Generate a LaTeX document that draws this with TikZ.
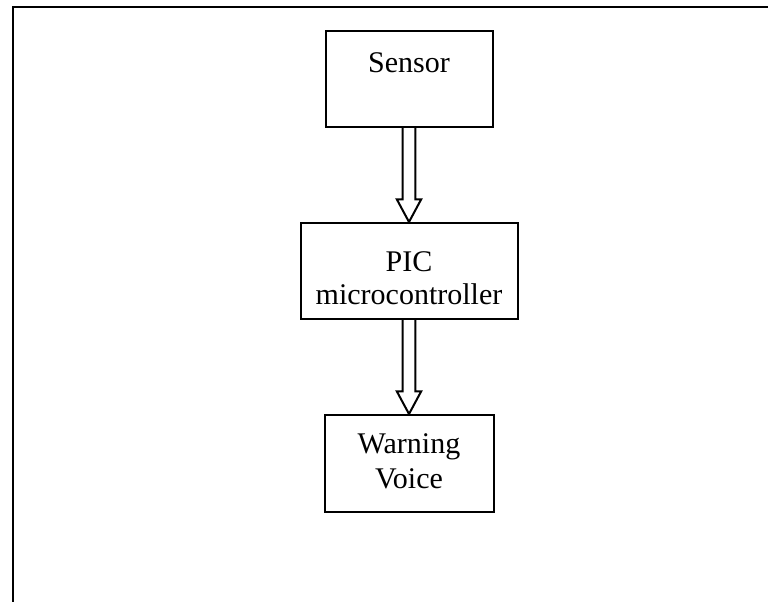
\documentclass[tikz,border=0pt]{standalone}
\usepackage{fontspec}
\setmainfont{Liberation Serif}
\usetikzlibrary{calc}
\tikzset{
  blockbox/.style={draw, line width=2pt, rectangle, inner sep=0pt},
  blocktext/.style={inner sep=0pt, anchor=base, font=\fontsize{30}{36}\selectfont},
  frameline/.style={line width=2.5pt},
  hollowarrow/.style={draw, line width=2pt, line join=miter, fill=white},
}
\begin{document}
\begin{tikzpicture}[x=1pt, y=-1pt]
  \useasboundingbox (0,0) rectangle (768,602);

  % page frame: top and left edges
  \coordinate (frameTL) at (13,7);
  \coordinate (frameBL) at (13,602);
  \coordinate (frameTR) at (768,7);
  \draw[frameline] (frameBL) -- (frameTL) -- (frameTR);

  % blocks
  \node[blockbox, minimum width=167pt, minimum height=96pt] (sensor) at (409,79) {};
  \node[blockbox, minimum width=217pt, minimum height=96pt] (pic) at (409,271) {};
  \node[blockbox, minimum width=169pt, minimum height=97pt] (warn) at (409,463.5) {};

  % block labels
  \node[blocktext] (sensorT) at (409,72) {Sensor};
  \node[blocktext] (picT1) at (409,271) {PIC};
  \node[blocktext] (picT2) at (409,304.5) {microcontroller};
  \node[blocktext] (warnT1) at (409,453) {Warning};
  \node[blocktext] (warnT2) at (409,488) {Voice};

  % hollow block arrows between the blocks
  \foreach \from/\to in {sensor/pic, pic/warn} {
    \draw[hollowarrow]
      ($(\from.south)+(-6.3,0)$) --
      ($(\to.north)+(-6.3,-22.7)$) --
      ($(\to.north)+(-12.2,-22.7)$) --
      (\to.north) --
      ($(\to.north)+(12.2,-22.7)$) --
      ($(\to.north)+(6.3,-22.7)$) --
      ($(\from.south)+(6.3,0)$);
  }
\end{tikzpicture}
\end{document}
